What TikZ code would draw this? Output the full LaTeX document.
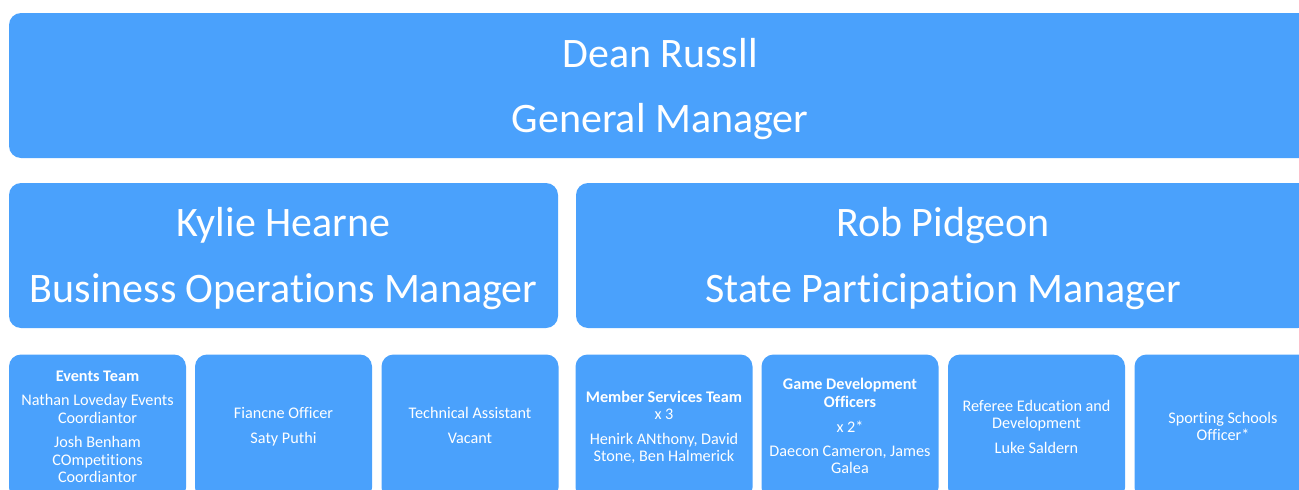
\documentclass[tikz,border=0pt]{standalone}
\usepackage{fontspec}
\setmainfont{Carlito}[Ligatures=CommonOff]
\definecolor{boxblue}{RGB}{74,161,252}
\begin{document}
\begin{tikzpicture}[x=1pt,y=-1pt,
  box/.style={fill=boxblue, draw=none, rounded corners=12pt, inner sep=0pt, minimum height=145pt},
  big/.style={font=\fontsize{42}{50}\selectfont, text=white, anchor=base, inner sep=0pt},
  small/.style={font=\fontsize{16.2}{19}\selectfont, text=white, anchor=base, inner sep=0pt},
  smallb/.style={small, font=\fontsize{16.2}{19}\selectfont\bfseries}]
\useasboundingbox (0,0) rectangle (1299,490);
\clip (0,0) rectangle (1299,490);
% top
\node[box, minimum width=1302pt] (gm) at (660,85.5) {};
\node[big] (gmn) at (660,67) {Dean Russll};
\node[big] (gmt) at (660,132) {General Manager};
% row 2
\node[box, minimum width=549pt] (bo) at (283.5,255.5) {};
\node[big] (bon) at (283.5,236) {Kylie Hearne};
\node[big] (bot) at (283.5,302) {Business Operations Manager};
\node[box, minimum width=734pt] (sp) at (943,255.5) {};
\node[big] (spn) at (943,236) {Rob Pidgeon};
\node[big] (spt) at (943,302) {State Participation Manager};
% row 3
\node[box, minimum width=177pt] (b1) at (97.5,427) {};
\node[box, minimum width=177pt] (b2) at (283.5,427) {};
\node[box, minimum width=177pt] (b3) at (470,427) {};
\node[box, minimum width=177pt] (b4) at (664,427) {};
\node[box, minimum width=177pt] (b5) at (850,427) {};
\node[box, minimum width=177pt] (b6) at (1036.5,427) {};
\node[box, minimum width=177pt] (b7) at (1223,427) {};
% box 1
\node[smallb] (t1a) at (97.5,381.2) {Events Team};
\node[small] (t1b) at (97.5,405.2) {Nathan Loveday Events};
\node[small] (t1c) at (97.5,423.2) {Coordiantor};
\node[small] (t1d) at (97.5,447.2) {Josh Benham};
\node[small] (t1e) at (97.5,465.2) {COmpetitions};
\node[small] (t1f) at (97.5,482.2) {Coordiantor};
% box 2
\node[small] (t2a) at (283.5,418.2) {Fiancne Officer};
\node[small] (t2b) at (283.5,443.2) {Saty Puthi};
% box 3
\node[small] (t3a) at (470,418.2) {Technical Assistant};
\node[small] (t3b) at (470,443.2) {Vacant};
% box 4
\node[smallb] (t4a) at (664,402.2) {Member Services Team};
\node[small] (t4b) at (664,419.2) {x 3};
\node[small] (t4c) at (664,444.2) {Henirk ANthony, David};
\node[small] (t4d) at (664,461.2) {Stone, Ben Halmerick};
% box 5
\node[smallb] (t5a) at (850,389.2) {Game Development};
\node[smallb] (t5b) at (850,407.2) {Officers};
\node[small] (t5c) at (850,432.2) {x 2*};
\node[small] (t5d) at (850,456.2) {Daecon Cameron, James};
\node[small] (t5e) at (850,473.2) {Galea};
% box 6
\node[small] (t6a) at (1036.5,411.2) {Referee Education and};
\node[small] (t6b) at (1036.5,428.2) {Development};
\node[small] (t6c) at (1036.5,453.2) {Luke Saldern};
% box 7
\node[small] (t7a) at (1223,423.2) {Sporting Schools};
\node[small] (t7b) at (1223,440.2) {Officer*};
\end{tikzpicture}
\end{document}
